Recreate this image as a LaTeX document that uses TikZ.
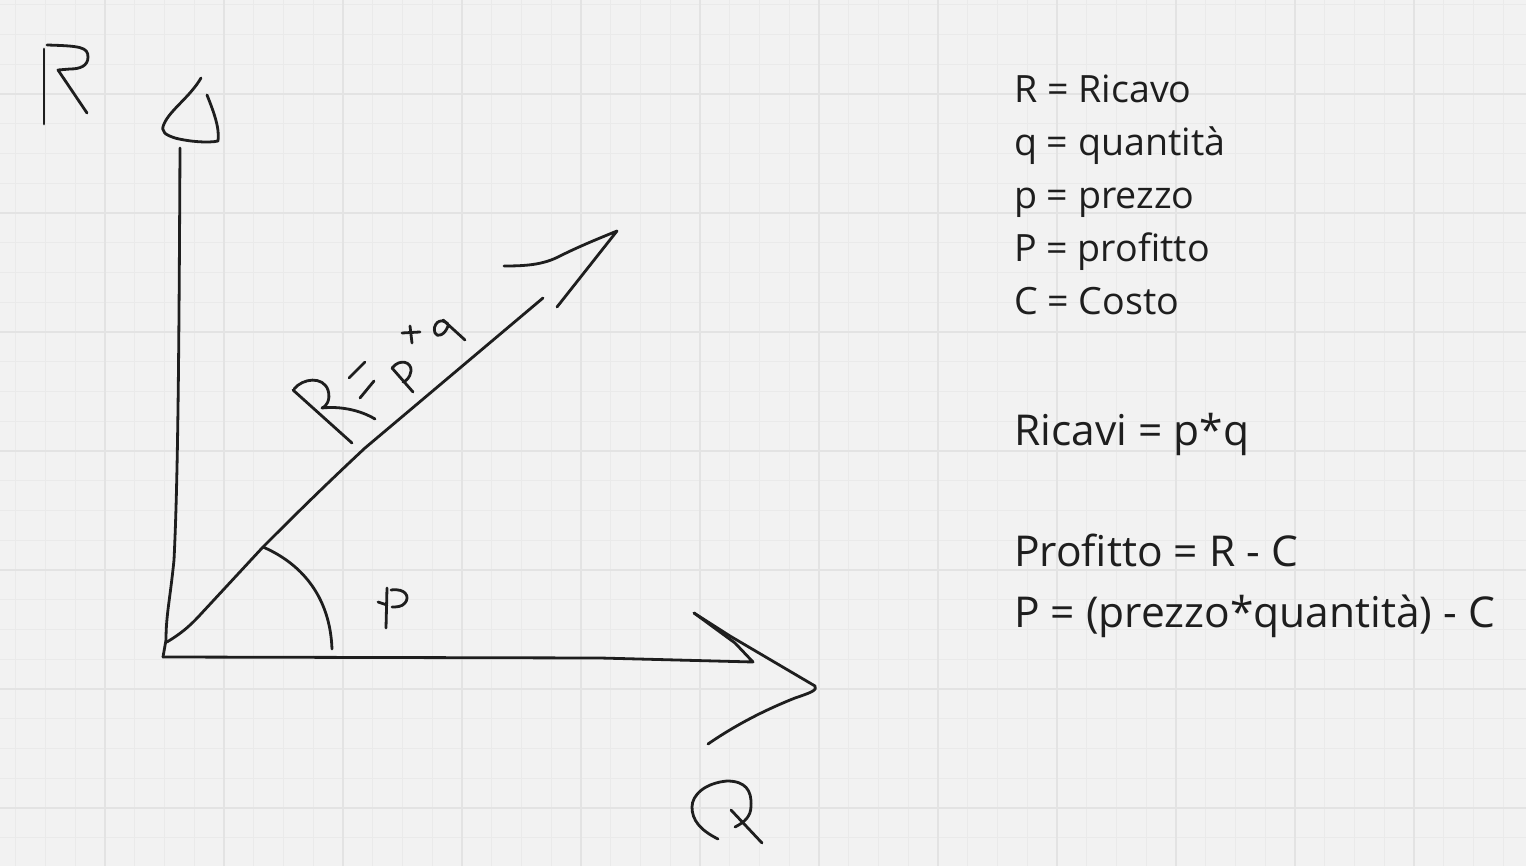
\documentclass[tikz,border=0pt]{standalone}
\usepackage{fontspec}
\setmainfont{Open Sans}
\definecolor{bg}{HTML}{F2F2F2}
\definecolor{gminor}{HTML}{EAEAEA}
\definecolor{gmajor}{HTML}{E3E3E3}
\definecolor{ink}{HTML}{1E1E1E}
\definecolor{txt}{HTML}{1E1E1E}
\tikzset{
  pen/.style={draw=ink, line width=2.8pt, line cap=round, line join=round},
  smalltxt/.style={anchor=base west, inner sep=0pt, text=txt, font=\fontsize{37.6}{46}\selectfont},
  bigtxt/.style={anchor=base west, inner sep=0pt, text=txt, font=\fontsize{42.5}{50}\selectfont},
}
\begin{document}
\begin{tikzpicture}[x=1pt,y=-1pt]
\useasboundingbox (0,0) rectangle (1526,866);
\fill[bg] (0,0) rectangle (1526,866);
% grid
\foreach \i in {0,...,51} {
  \draw[gminor, line width=1pt] ({15.75+29.75*\i},0) -- ({15.75+29.75*\i},866);
}
\foreach \i in {0,...,29} {
  \draw[gminor, line width=1pt] (0,{4.75+29.75*\i}) -- (1526,{4.75+29.75*\i});
}
\foreach \i in {0,...,12} {
  \draw[gmajor, line width=1.5pt] ({105+119*\i},0) -- ({105+119*\i},866);
}
\foreach \i in {0,...,6} {
  \draw[gmajor, line width=1.5pt] (0,{94+119*\i}) -- (1526,{94+119*\i});
}
% origin
\coordinate (O) at (163,657);
% R letter
\draw[pen] (44,49) -- (44,124);
\draw[pen] (47,45) .. controls (80,46) and (88,47) .. (88,57) .. controls (88,66) and (80,69) .. (70,69) -- (58,70) -- (87,113);
% vertical axis
\draw[pen] (180,148) .. controls (179,350) and (178,480) .. (174,560) .. controls (170,600) and (166,615) .. (166,640) -- (O);
% up arrowhead
\draw[pen] (201,78) .. controls (190,97) and (170,110) .. (164,124) .. controls (160,132) and (166,135) .. (175,138) .. controls (190,142) and (210,143) .. (218,141) .. controls (220,128) and (213,110) .. (207,95);
% horizontal axis
\draw[pen] (O) -- (600,658) -- (753,662) -- (735,643) -- (694,613);
\draw[pen] (694,613) -- (730,636) -- (815,686) .. controls (818,690) and (810,693) .. (795,698) .. controls (770,708) and (740,722) .. (708,744);
% Q letter
\draw[pen] (718,839) .. controls (700,830) and (692,820) .. (692,807) .. controls (692,795) and (705,783) .. (727,781) .. controls (745,781) and (752,790) .. (751,806) .. controls (751,816) and (745,822) .. (735,827);
\draw[pen] (731,810) -- (762,843);
% diagonal
\draw[pen] (167,642) .. controls (180,634) and (188,628) .. (200,615) -- (263,547) .. controls (290,520) and (320,490) .. (365,448) -- (543,298);
% diagonal arrowhead
\draw[pen] (504,266) .. controls (525,266) and (543,265) .. (560,256) .. controls (580,246) and (600,238) .. (617,231) -- (557,307);
% angle arc
\draw[pen] (263,547) .. controls (300,563) and (330,595) .. (332,649);
% P label
\draw[pen] (387,588) -- (386,628);
\draw[pen] (391,590) .. controls (406,588) and (410,597) .. (405,603) .. controls (402,607) and (396,607) .. (392,607);
\draw[pen] (378,602) -- (387,605);
% handwritten R=p*q
\draw[pen] (293,390) -- (352,443);
\draw[pen] (294,389) .. controls (303,378) and (323,376) .. (328,390) .. controls (331,400) and (326,407) .. (322,408) .. controls (340,406) and (360,410) .. (375,419);
\draw[pen] (349,378) -- (365,362);
\draw[pen] (360,398) -- (374,381);
\draw[pen] (392,368) -- (413,392);
\draw[pen] (392,368) .. controls (400,358) and (412,362) .. (411,371) .. controls (410,378) and (406,381) .. (403,382);
\draw[pen] (402,333) -- (420,332);
\draw[pen] (410,326) -- (412,343);
\draw[pen] (448,324) .. controls (440,316) and (432,325) .. (435,333) .. controls (437,338) and (445,335) .. (448,326);
\draw[pen] (443,320) -- (465,340);
% legend text
\node[smalltxt] (t1) at (1014,103) {R = Ricavo};
\node[smalltxt] (t2) at (1014,156) {q = quantità};
\node[smalltxt] (t3) at (1014,209) {p = prezzo};
\node[smalltxt] (t4) at (1014,262) {P = profitto};
\node[smalltxt] (t5) at (1014,315) {C = Costo};
\node[bigtxt] (t6) at (1014,445) {Ricavi = p*q};
\node[bigtxt] (t7) at (1014,566) {Profitto = R - C};
\node[bigtxt] (t8) at (1014,627) {P = (prezzo*quantità) - C};
\end{tikzpicture}
\end{document}
